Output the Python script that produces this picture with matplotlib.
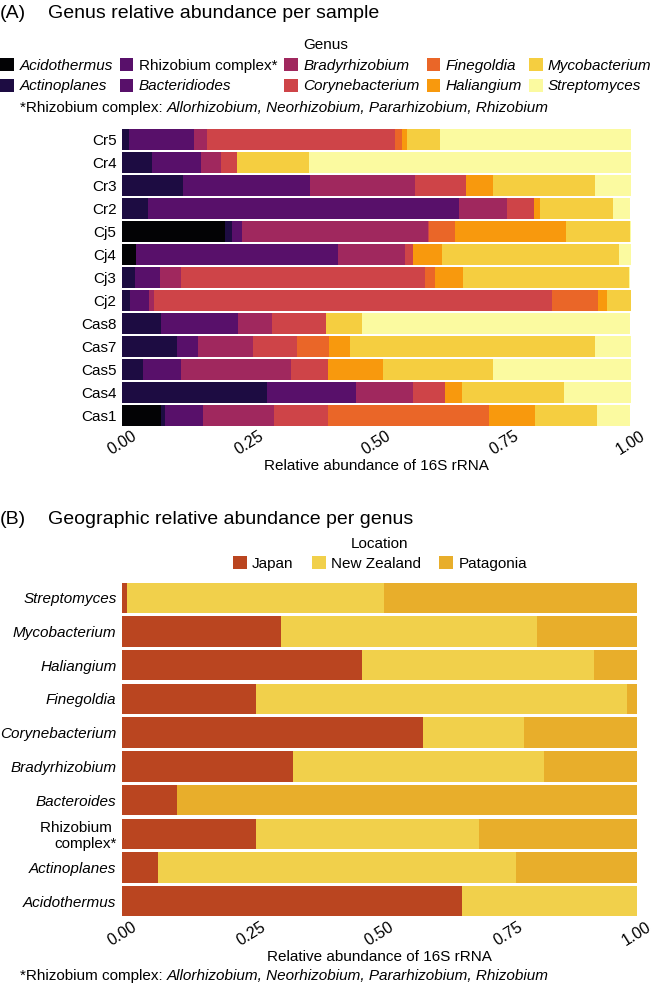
import matplotlib
matplotlib.use("Agg")
import matplotlib.pyplot as plt
from matplotlib.patches import Patch
import numpy as np

plt.rcParams["font.family"] = ["Liberation Sans", "DejaVu Sans"]

# ============================================================
# (A) Genus relative abundance per sample
# ============================================================
samples = ["Cr5", "Cr4", "Cr3", "Cr2", "Cj5", "Cj4", "Cj3", "Cj2",
           "Cas8", "Cas7", "Cas5", "Cas4", "Cas1"]

acidothermus    = [0.000, 0.000, 0.000, 0.000, 0.202, 0.028, 0.000, 0.000, 0.000, 0.000, 0.000, 0.000, 0.076]
actinoplanes    = [0.013, 0.059, 0.119, 0.051, 0.014, 0.000, 0.025, 0.016, 0.077, 0.108, 0.042, 0.285, 0.009]
rhizobium_cx    = [0.129, 0.096, 0.251, 0.612, 0.020, 0.397, 0.049, 0.037, 0.150, 0.042, 0.074, 0.174, 0.075]
bacteroides     = [0.000, 0.000, 0.000, 0.000, 0.000, 0.000, 0.000, 0.000, 0.000, 0.000, 0.000, 0.000, 0.000]
bradyrhizobium  = [0.025, 0.040, 0.206, 0.093, 0.365, 0.131, 0.042, 0.010, 0.068, 0.108, 0.217, 0.112, 0.138]
corynebacterium = [0.370, 0.031, 0.099, 0.053, 0.002, 0.015, 0.479, 0.781, 0.106, 0.086, 0.071, 0.063, 0.107]
finegoldia      = [0.013, 0.000, 0.000, 0.000, 0.051, 0.000, 0.020, 0.091, 0.000, 0.063, 0.000, 0.000, 0.317]
haliangium      = [0.009, 0.000, 0.053, 0.013, 0.218, 0.057, 0.055, 0.018, 0.000, 0.040, 0.108, 0.033, 0.089]
mycobacterium   = [0.065, 0.141, 0.202, 0.143, 0.126, 0.348, 0.327, 0.048, 0.071, 0.482, 0.217, 0.202, 0.122]
streptomyces    = [0.376, 0.633, 0.071, 0.034, 0.002, 0.025, 0.002, 0.000, 0.527, 0.071, 0.272, 0.131, 0.066]

genus_labels = ["Acidothermus", "Actinoplanes", "Rhizobium complex*", "Bacteridiodes",
                "Bradyrhizobium", "Corynebacterium", "Finegoldia", "Haliangium",
                "Mycobacterium", "Streptomyces"]
genus_values = [acidothermus, actinoplanes, rhizobium_cx, bacteroides, bradyrhizobium,
                corynebacterium, finegoldia, haliangium, mycobacterium, streptomyces]
genus_colors = ["#030305", "#1D0C42", "#58106A", "#58106A", "#A0285E",
                "#CE4448", "#EA6628", "#F8990D", "#F5CE40", "#FBFAA0"]

# ============================================================
# (B) Geographic relative abundance per genus
# ============================================================
genera_b = ["Streptomyces", "Mycobacterium", "Haliangium", "Finegoldia", "Corynebacterium",
            "Bradyrhizobium", "Bacteroides", "Rhizobium \ncomplex*", "Actinoplanes", "Acidothermus"]
japan       = [0.009, 0.309, 0.466, 0.260, 0.585, 0.333, 0.107, 0.260, 0.070, 0.660]
new_zealand = [0.500, 0.497, 0.450, 0.720, 0.196, 0.486, 0.000, 0.434, 0.695, 0.340]
patagonia   = [0.491, 0.194, 0.084, 0.020, 0.219, 0.181, 0.893, 0.306, 0.235, 0.000]

locations = ["Japan", "New Zealand", "Patagonia"]
location_values = [japan, new_zealand, patagonia]
location_colors = ["#BA4520", "#F1D04B", "#E8AE2B"]

W, H = 653, 988
FS = 11

fig = plt.figure(figsize=(W / 100, H / 100), dpi=100)


def px_axes(left, top, right, bottom):
    return fig.add_axes([left / W, 1 - bottom / H, (right - left) / W, (bottom - top) / H])


def stacked(ax, cats, values, colors):
    y = np.arange(len(cats))
    left = np.zeros(len(cats))
    for vals, col in zip(values, colors):
        vals = np.asarray(vals)
        ax.barh(y, vals, left=left, height=0.9, color=col, edgecolor="none")
        left += vals
    ax.set_ylim(len(cats) - 0.5, -0.5)
    ax.set_xlim(0, 1)
    ax.set_yticks(y)
    ax.set_yticklabels(cats, fontsize=FS)
    ax.set_xticks([0, 0.25, 0.5, 0.75, 1.0])
    ax.set_xticklabels(["0.00", "0.25", "0.50", "0.75", "1.00"], fontsize=FS + 0.5,
                       rotation=32, ha="center", va="top")
    ax.tick_params(axis="y", length=0, pad=4)
    ax.tick_params(axis="x", length=0, pad=1)
    for s in ax.spines.values():
        s.set_visible(False)
    ax.set_xlabel("Relative abundance of 16S rRNA", fontsize=FS, labelpad=1)


def footnote(y):
    t1 = fig.text(20 / W, 1 - y / H, "*Rhizobium complex: ", fontsize=FS, va="center")
    fig.canvas.draw()
    bb = t1.get_window_extent()
    fig.text(bb.x1 / W, 1 - y / H, "Allorhizobium, Neorhizobium, Pararhizobium, Rhizobium",
             fontsize=FS, style="italic", va="center")


# ---- panel A ----
axA = px_axes(122, 128, 631, 427)
stacked(axA, samples, genus_values, genus_colors)

fig.text(0, 1 - 14 / H, "(A)", fontsize=14, va="center")
fig.text(48 / W, 1 - 14 / H, "Genus relative abundance per sample", fontsize=14, va="center")

handles = [Patch(facecolor=c, edgecolor="none") for c in genus_colors]
legA = fig.legend(handles, genus_labels, ncol=5, loc="upper center",
                  bbox_to_anchor=(326 / W, 1 - 38 / H), frameon=False, title="Genus",
                  fontsize=FS, title_fontsize=FS, handlelength=0.9, handleheight=0.9,
                  handletextpad=0.35, columnspacing=0.45, labelspacing=0.4,
                  borderpad=0, borderaxespad=0)
for t in legA.get_texts():
    if not t.get_text().startswith("Rhizobium"):
        t.set_fontstyle("italic")

footnote(108)

# ---- panel B ----
axB = px_axes(122, 581, 637, 918)
stacked(axB, genera_b, location_values, location_colors)
for t in axB.get_yticklabels():
    if t.get_text().startswith("Rhizobium"):
        t.set_multialignment("right")
    else:
        t.set_fontstyle("italic")

fig.text(0, 1 - 520 / H, "(B)", fontsize=14, va="center")
fig.text(48 / W, 1 - 520 / H, "Geographic relative abundance per genus", fontsize=14, va="center")

handles = [Patch(facecolor=c, edgecolor="none") for c in location_colors]
fig.legend(handles, locations, ncol=3, loc="upper center",
           bbox_to_anchor=(380 / W, 1 - 537 / H), frameon=False, title="Location",
           fontsize=FS, title_fontsize=FS, handlelength=0.9, handleheight=0.9,
           handletextpad=0.35, columnspacing=1.2, labelspacing=0.35,
           borderpad=0, borderaxespad=0)

footnote(976)

fig.savefig("out.png", dpi=100)
